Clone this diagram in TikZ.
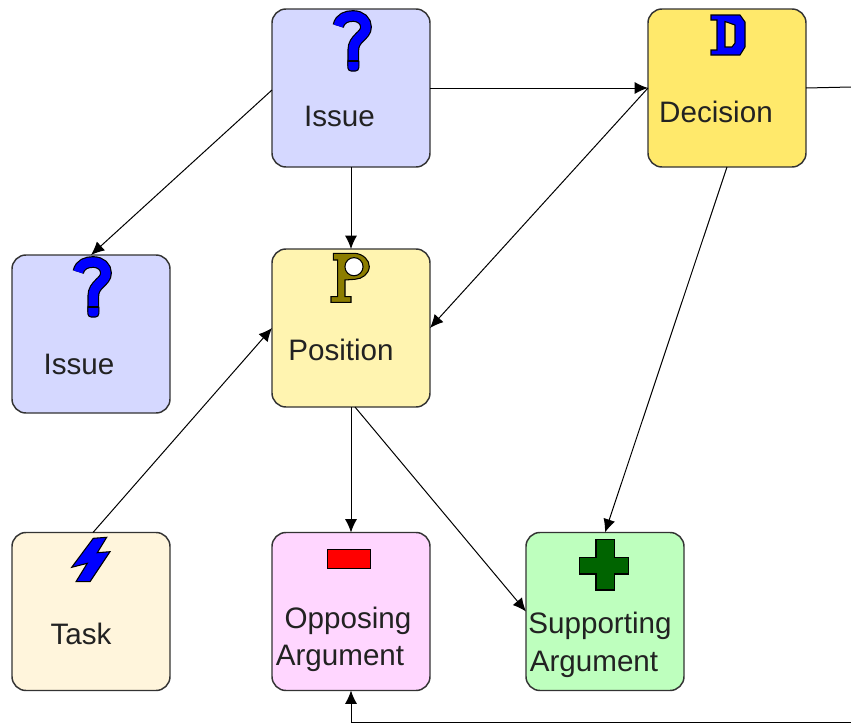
\documentclass[tikz,border=0pt]{standalone}
\usepackage{fontspec}
\setmainfont{Liberation Sans}
\usetikzlibrary{arrows.meta}
\definecolor{cissue}{HTML}{D5D8FF}
\definecolor{cdecision}{HTML}{FFE96B}
\definecolor{cposition}{HTML}{FFF4B0}
\definecolor{ctask}{HTML}{FFF5DC}
\definecolor{copp}{HTML}{FFD6FF}
\definecolor{csup}{HTML}{BEFFBE}
\definecolor{colive}{HTML}{8C7D00}
\definecolor{cgreen}{HTML}{006400}
\definecolor{cedge}{HTML}{333333}
\definecolor{ctext}{HTML}{222222}
\tikzset{
  card/.style={draw=cedge,line width=1.1pt,rounded corners=10.5pt,minimum width=118.5pt,minimum height=118.5pt,inner sep=0pt,outer sep=0pt},
  lab/.style={anchor=base,inner sep=0pt,text=ctext,font=\fontsize{22.2}{24}\selectfont},
  link/.style={draw=black,line width=0.75pt,-{Latex[length=10pt,width=9pt]}},
  plain/.style={draw=black,line width=0.75pt},
  qmark/.pic={
    \draw[black,line width=8.8pt] (-12.7,-62) .. controls (-11,-70) and (-4,-72) .. (2,-72) .. controls (10,-72) and (15,-67) .. (15,-61) .. controls (15,-52) and (2.3,-50) .. (2.3,-38) -- (2.3,-22);
    \fill[blue,draw=black,line width=0.8pt,rounded corners=2.5pt] (-3.2,-30) rectangle (7.8,-17);
    \draw[blue,line width=7pt] (-12.7,-62) .. controls (-11,-70) and (-4,-72) .. (2,-72) .. controls (10,-72) and (15,-67) .. (15,-61) .. controls (15,-52) and (2.3,-50) .. (2.3,-38) -- (2.3,-27);
    \draw[black,line width=0.8pt] (-3,-27) -- (7.5,-27);
  }
}
\begin{document}
\begin{tikzpicture}[x=0.75pt,y=-0.75pt]
\useasboundingbox (0,0) rectangle (851,725);
\node[card,fill=cissue] (issueA) at (351,88) {};
\node[card,fill=cissue] (issueB) at (91,334) {};
\node[card,fill=cdecision] (decision) at (727,88) {};
\node[card,fill=cposition] (position) at (351,328) {};
\node[card,fill=ctask] (task) at (91,611.5) {};
\node[card,fill=copp] (opposing) at (351,611.5) {};
\node[card,fill=csup] (supporting) at (605,611.5) {};
\coordinate (exitR) at (851,87);
\coordinate (enterR) at (851,722);
\coordinate (corner) at (351,722);
% connectors
\draw[link] (issueA.east) -- (decision.west);
\draw[link] ([yshift=-1.5pt]issueA.west) -- (issueB.north);
\draw[link] (issueA.south) -- (position.north);
\draw[link] (decision.west) -- (position.east);
\draw[link] (decision.south) -- (supporting.north);
\draw[link] (position.south) -- (opposing.north);
\draw[link] ([xshift=3pt]position.south) -- (supporting.west);
\draw[link] ([xshift=1.5pt]task.north) -- (position.west);
\draw[plain] (decision.east) -- (exitR);
\draw[link] (enterR) -- (corner) -- (opposing.south);
% labels
\node[lab] (tIssueA) at (339.5,126) {Issue};
\node[lab] (tIssueB) at (79,374) {Issue};
\node[lab] (tDecision) at (716,122) {Decision};
\node[lab] (tPosition) at (341,360) {Position};
\node[lab] (tTask) at (81,644) {Task};
\node[lab] (tOpp) at (348,628) {Opposing};
\node[lab] (tOppB) at (340,665) {Argument};
\node[lab] (tSup) at (600,633) {Supporting};
\node[lab] (tSupB) at (594,671) {Argument};
% icons
\pic at (351,88) {qmark};
\pic at (91,334) {qmark};
\fill[blue,draw=black,line width=0.8pt,even odd rule]
  (711,15) -- (740,15) -- (745,22) -- (745,47) -- (740,55) -- (711,55) -- (711,50) -- (717,50) -- (717,20) -- (711,20) -- cycle
  (725,21.5) -- (735,25) -- (735,43) -- (732,47) -- (725,47) -- cycle;
\fill[colive,draw=black,line width=0.8pt]
  (333.3,253.3) -- (355,253.3) .. controls (363,254) and (369.5,260) .. (369.3,266.7) .. controls (369,274) and (362,279) .. (355,279.3) -- (345,280) -- (345,296.7) -- (351,296.7) -- (351,302.3) -- (331,302.3) -- (331,296.7) -- (337.7,296.7) -- (337.7,260) -- (333.3,260) -- cycle;
\fill[white,draw=black,line width=0.8pt] (354,266.7) circle[radius=6.8pt];
\fill[blue,draw=black,line width=0.8pt]
  (93.3,538.3) -- (106.7,537.3) -- (97.3,552.7) -- (110,551.7) -- (90,581.7) -- (76,581.7) -- (87.3,563.3) -- (71.7,567.3) -- cycle;
\fill[red,draw=black,line width=0.8pt] (327.3,549.3) rectangle (370.7,568.3);
\fill[cgreen,draw=black,line width=0.8pt]
  (596,539.3) -- (614.3,539.3) -- (614.3,557.3) -- (628.3,557.3) -- (628.3,574) -- (614.3,574) -- (614.3,590) -- (596,590) -- (596,574) -- (579.3,574) -- (579.3,557.3) -- (596,557.3) -- cycle;
\end{tikzpicture}
\end{document}
